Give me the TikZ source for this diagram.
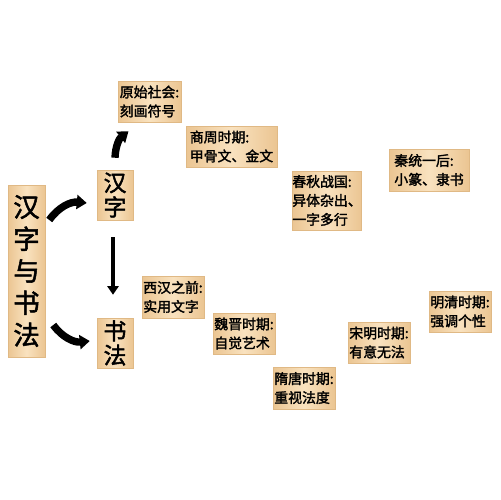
\documentclass[tikz,border=0pt]{standalone}
\usepackage{fontspec}
\newfontfamily\kai{Noto Sans CJK SC}[FakeBold=2]
\usetikzlibrary{arrows.meta}
\definecolor{wooddark}{HTML}{EBC592}
\definecolor{woodlight}{HTML}{F9E2BF}
\definecolor{woodedge}{HTML}{E0B985}
\tikzset{
  x=0.02cm,y=-0.02cm,
  wood/.style={draw=woodedge,line width=0.3pt,left color=wooddark,right color=wooddark,middle color=woodlight,inner sep=0pt,font=\kai},
  period/.style={wood,align=left,font=\kai\fontsize{7.9pt}{10.8pt}\selectfont},
  bigbox/.style={wood,align=center,font=\kai\fontsize{15pt}{18.2pt}\selectfont},
  midbox/.style={wood,align=center,font=\kai\fontsize{13pt}{13.8pt}\selectfont},
  thickarrow/.style={line width=4.2pt,-{Triangle[width=0.28cm,length=0.2cm]}},
  straightarrow/.style={line width=2.8pt,-{Triangle[width=0.22cm,length=0.17cm]}}
}
\begin{document}
\begin{tikzpicture}
\useasboundingbox (0,0) rectangle (500,500);
\node[bigbox,minimum width=0.74cm,minimum height=3.44cm] (main) at (26.5,271) {汉\\字\\与\\书\\法};
\node[midbox,minimum width=0.72cm,minimum height=1.0cm] (hz) at (115,195) {汉\\字};
\node[midbox,minimum width=0.72cm,minimum height=1.0cm] (sf) at (115,343) {书\\法};
\node[period,minimum width=1.26cm,minimum height=0.82cm] (ys) at (149.5,101.5) {原始社会:\\刻画符号};
\node[period,minimum width=1.82cm,minimum height=0.82cm] (sz) at (231.5,146.5) {商周时期:\\甲骨文、金文};
\node[period,minimum width=1.36cm,minimum height=1.18cm] (cq) at (327,200.5) {春秋战国:\\异体杂出、\\一字多行};
\node[period,minimum width=1.6cm,minimum height=0.84cm] (qt) at (429,170) {秦统一后:\\小篆、隶书};
\node[period,minimum width=1.24cm,minimum height=0.84cm] (xh) at (173,297) {西汉之前:\\实用文字};
\node[period,minimum width=1.24cm,minimum height=0.82cm] (wj) at (244,333.5) {魏晋时期:\\自觉艺术};
\node[period,minimum width=1.24cm,minimum height=0.84cm] (st) at (304,388) {隋唐时期:\\重视法度};
\node[period,minimum width=1.24cm,minimum height=0.82cm] (sm) at (379,342.5) {宋明时期:\\有意无法};
\node[period,minimum width=1.24cm,minimum height=0.82cm] (mq) at (460,311.5) {明清时期:\\强调个性};
\draw[thickarrow] ([shift={(4,-51)}]main.east) to[bend left=30] ([shift={(-10,8)}]hz.west);
\draw[thickarrow] ([shift={(8,54)}]main.east) to[bend right=30] ([shift={(-7,-2)}]sf.west);
\draw[thickarrow] ([shift={(0,-12)}]hz.north) to[bend left=25] ([shift={(-21,9)}]ys.south);
\draw[straightarrow] ([shift={(-2,17)}]hz.south) -- ([shift={(-2,-23)}]sf.north);
\end{tikzpicture}
\end{document}
